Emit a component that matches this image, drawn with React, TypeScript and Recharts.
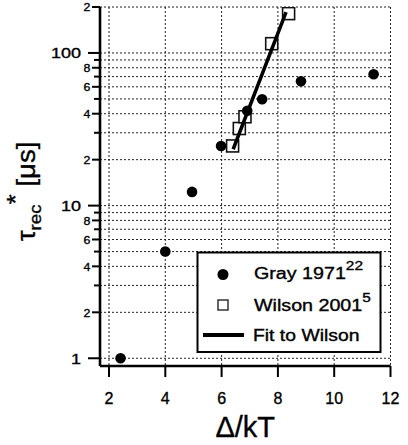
import React from 'react';
import { ScatterChart, Scatter, XAxis, YAxis, CartesianGrid } from 'recharts';

// Gray 1971 (filled circles)
const grayX = [2.41, 4.0, 4.95, 5.98, 6.91, 7.44, 8.82, 11.4];
const grayY = [1.0, 5.0, 12.3, 24.6, 41.8, 49.8, 65.3, 72.6];

// Wilson 2001 (open squares)
const wilsonX = [6.39, 6.63, 6.83, 7.78, 8.38];
const wilsonY = [24.6, 32.0, 38.2, 115, 181];

// exponential fit to Wilson (straight on log axis)
const fitX = [6.41, 8.29];
const fitY = [23.4, 185];

const xTicks = [2, 4, 6, 8, 10, 12];
const yTicks = [1, 2, 3, 4, 5, 6, 7, 8, 9, 10, 20, 30, 40, 50, 60, 70, 80, 90, 100, 200];
const majorTicks = [1, 10, 100];
const yTickLabels: Record<number, string> = {
  1: '1', 2: '2', 4: '4', 6: '6', 8: '8', 10: '10',
  20: '2', 40: '4', 60: '6', 80: '8', 100: '100', 200: '2',
};

const toPoints = (xs: number[], ys: number[]) => xs.map((x, i) => ({ x, y: ys[i] }));
const grayData = toPoints(grayX, grayY);
const wilsonData = toPoints(wilsonX, wilsonY);
const fitData = toPoints(fitX, fitY);

const FONT = '"Liberation Sans", Arial, Helvetica, sans-serif';
// the scanned figure has heavy text, a thin outline thickens it a little
const ink = { fill: '#000', stroke: '#000', strokeWidth: 0.35 };

const YTick = (props: any) => {
  const { x, y, payload } = props;
  const v = payload.value;
  const label = yTickLabels[v];
  const major = majorTicks.includes(v);
  const len = major ? 12 : label ? 8 : 6;
  return (
    <g>
      <line x1={x - len} x2={x} y1={y} y2={y} stroke="#000" strokeWidth={2} />
      {label && (
        <text
          transform={`translate(${x - len - (major ? 7 : 1.5)},${y}) scale(${major ? 1.2 : 1.05},1)`}
          textAnchor="end"
          dy={major ? 5.4 : 4.2}
          fontSize={major ? 15 : 11.8}
          fontFamily={FONT}
          {...ink}
        >
          {label}
        </text>
      )}
    </g>
  );
};

const XTick = (props: any) => {
  const { x, y, payload } = props;
  return (
    <g>
      <line x1={x} x2={x} y1={y} y2={y + 11} stroke="#000" strokeWidth={2} />
      <text x={x} y={y + 37.5} textAnchor="middle" fontSize={16} fontFamily={FONT} {...ink}>
        {payload.value}
      </text>
    </g>
  );
};

const XLabel = (props: any) => {
  const { x, y, width } = props.viewBox;
  return (
    <text x={x + width / 2} y={y + 71} textAnchor="middle" fontSize={29} fontFamily={FONT} {...ink}>
      Δ/kT
    </text>
  );
};

const YLabel = (props: any) => {
  const { y, height } = props.viewBox;
  const cx = 35;
  const cy = y + height / 2 + 5;
  return (
    <text
      transform={`translate(${cx},${cy}) rotate(-90) scale(1.1,1)`}
      textAnchor="middle"
      fontSize={25}
      fontFamily={FONT}
      {...ink}
    >
      τ
      <tspan dy={6} fontSize={17}>rec</tspan>
      <tspan dy={-17} fontSize={24}>*</tspan>
      <tspan dy={11}> [μs]</tspan>
    </text>
  );
};

const Circle = (p: any) => <circle cx={p.cx} cy={p.cy} r={5.3} fill="#000" />;
const Square = (p: any) => (
  <rect x={p.cx - 6} y={p.cy - 6} width={12} height={12} fill="#fff" stroke="#111" strokeWidth={1.6} />
);
const Nothing = () => <g />;

const Legend = () => (
  <svg width={408} height={445} style={{ position: 'absolute', left: 0, top: 0, pointerEvents: 'none' }}>
    <rect x={197.5} y={252.5} width={183} height={99.5} fill="#fff" stroke="#000" strokeWidth={2} />
    <circle cx={223} cy={274.5} r={5.5} fill="#000" />
    <text transform="translate(254,279) scale(1.23,1)" fontSize={16} fontFamily={FONT} {...ink}>
      Gray 1971
      <tspan dy={-9} fontSize={12.5}>22</tspan>
    </text>
    <rect x={218} y={300} width={10} height={10} fill="#fff" stroke="#333" strokeWidth={1.5} />
    <text transform="translate(254,311) scale(1.23,1)" fontSize={16} fontFamily={FONT} {...ink}>
      Wilson 2001
      <tspan dy={-9} fontSize={12.5}>5</tspan>
    </text>
    <line x1={203} x2={244} y1={335} y2={335} stroke="#000" strokeWidth={4} />
    <text transform="translate(253,341) scale(1.21,1)" fontSize={16} fontFamily={FONT} {...ink}>
      Fit to Wilson
    </text>
  </svg>
);

export default function App() {
  return (
    <div style={{ position: 'absolute', left: 0, top: 0, width: 408, height: 445, background: '#fff' }}>
      <ScatterChart width={408} height={445} margin={{ top: 7, right: 17.5, bottom: 0, left: 0 }}>
        <CartesianGrid stroke="#222" strokeDasharray="2 2" strokeWidth={1} />
        <XAxis
          type="number"
          dataKey="x"
          domain={[1.68, 12]}
          ticks={xTicks}
          interval={0}
          allowDataOverflow
          height={79}
          axisLine={{ stroke: '#000', strokeWidth: 2.6 }}
          tickLine={false}
          tickSize={0}
          tickMargin={0}
          tick={<XTick />}
          label={<XLabel />}
        />
        <YAxis
          type="number"
          dataKey="y"
          scale="log"
          domain={[0.89, 200]}
          ticks={yTicks}
          interval={0}
          allowDataOverflow
          width={100}
          axisLine={{ stroke: '#000', strokeWidth: 2.6 }}
          tickLine={false}
          tickSize={0}
          tickMargin={0}
          tick={<YTick />}
          label={<YLabel />}
        />
        <Scatter data={wilsonData} shape={<Square />} isAnimationActive={false} />
        <Scatter
          data={fitData}
          line={{ stroke: '#000', strokeWidth: 3.5 }}
          lineType="joint"
          shape={<Nothing />}
          isAnimationActive={false}
        />
        <Scatter data={grayData} shape={<Circle />} isAnimationActive={false} />
      </ScatterChart>
      <Legend />
    </div>
  );
}
